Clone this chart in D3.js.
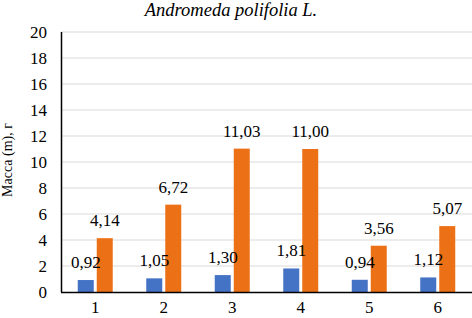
<!DOCTYPE html>
<html>
<head>
<meta charset="utf-8">
<script src="https://cdn.jsdelivr.net/npm/d3@7"></script>
<style>
  body { margin: 0; background: #fff; }
  #chart text { font-family: "Liberation Serif", "DejaVu Serif", serif; }
</style>
</head>
<body>
<svg id="chart" width="472" height="318"></svg>
<script>
const categories = ["1", "2", "3", "4", "5", "6"];
const seriesBlue = [0.92, 1.05, 1.30, 1.81, 0.94, 1.12];
const seriesOrange = [4.14, 6.72, 11.03, 11.00, 3.56, 5.07];
const yTicks = [0, 2, 4, 6, 8, 10, 12, 14, 16, 18, 20];

const svg = d3.select("#chart");
const margin = { top: 32, right: 0, bottom: 26, left: 61 };
const width = 472, height = 318;

const x = d3.scaleBand().domain(categories).range([margin.left, width - margin.right]).padding(0);
const y = d3.scaleLinear().domain([0, 20]).range([height - margin.bottom, margin.top]);

const fmt = v => v.toFixed(2).replace(".", ",");

// gridlines
svg.append("g")
  .selectAll("line")
  .data(yTicks.slice(1))
  .join("line")
  .attr("x1", margin.left).attr("x2", width - margin.right)
  .attr("y1", d => y(d)).attr("y2", d => y(d))
  .attr("stroke", "#d9d9d9").attr("stroke-width", 1);

// y tick labels
svg.append("g")
  .selectAll("text")
  .data(yTicks)
  .join("text")
  .attr("x", 47)
  .attr("y", d => y(d))
  .attr("dy", "0.35em")
  .attr("text-anchor", "end")
  .attr("font-size", 17)
  .text(d => d);

// bars
const barW = 16, gap = 3;
const groups = categories.map((c, i) => ({ c, blue: seriesBlue[i], orange: seriesOrange[i] }));

const g = svg.append("g");
groups.forEach(d => {
  const cx = x(d.c) + x.bandwidth() / 2;
  const bars = [
    { v: d.blue, x0: cx - gap / 2 - barW, color: "#4472C4" },
    { v: d.orange, x0: cx + gap / 2, color: "#EC7116" }
  ];
  bars.forEach(b => {
    g.append("rect")
      .attr("x", b.x0).attr("y", y(b.v))
      .attr("width", barW).attr("height", y(0) - y(b.v))
      .attr("fill", b.color);
  });
  bars.forEach(b => {
    g.append("text")
      .attr("x", b.x0 + barW / 2)
      .attr("y", y(b.v) - 12)
      .attr("text-anchor", "middle")
      .attr("font-size", 17)
      .text(fmt(b.v));
  });
});

// axes lines
svg.append("line")
  .attr("x1", margin.left + 0.5).attr("x2", margin.left + 0.5)
  .attr("y1", y(20)).attr("y2", y(0))
  .attr("stroke", "#000").attr("stroke-width", 1.5);
svg.append("line")
  .attr("x1", margin.left).attr("x2", width)
  .attr("y1", y(0) + 0.5).attr("y2", y(0) + 0.5)
  .attr("stroke", "#000").attr("stroke-width", 1.5);

// x tick labels
svg.append("g")
  .selectAll("text")
  .data(categories)
  .join("text")
  .attr("x", d => x(d) + x.bandwidth() / 2)
  .attr("y", 313)
  .attr("text-anchor", "middle")
  .attr("font-size", 17)
  .text(d => d);

// title
svg.append("text")
  .attr("x", 231).attr("y", 16)
  .attr("text-anchor", "middle")
  .attr("font-size", 18.5)
  .attr("font-style", "italic")
  .text("Andromeda polifolia L.");

// y axis label
svg.append("text")
  .attr("transform", "translate(12,160) rotate(-90)")
  .attr("text-anchor", "middle")
  .attr("font-size", 14)
  .text("Масса (m), г");
</script>
</body>
</html>
